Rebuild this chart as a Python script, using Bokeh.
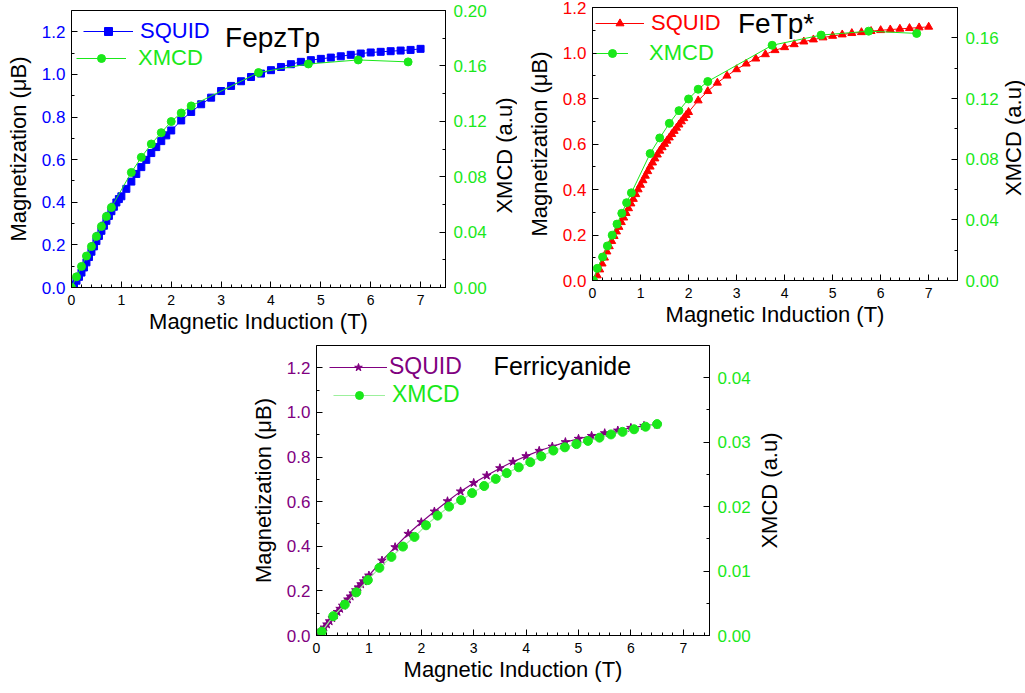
import math
from bokeh.plotting import figure
from bokeh.models import (Range1d, LinearAxis, SingleIntervalTicker, NumeralTickFormatter,
                          Legend, LegendItem, Label, Spacer)
from bokeh.layouts import column, row
from bokeh.embed import file_html
from bokeh.resources import INLINE

FONT = "Liberation Sans"
GREEN = "#1AE81A"
LIGHT_GREEN = "#9CF09C"

# ---------------- data ----------------
# Panel 1: FepzTp
fepz_sq_B = [0.02, 0.05, 0.1, 0.15, 0.2, 0.25, 0.3, 0.35, 0.4, 0.45, 0.5, 0.55, 0.6, 0.65, 0.7, 0.75,
             0.8, 0.85, 0.9, 0.95, 1.0, 1.1, 1.2, 1.3, 1.4, 1.5, 1.6, 1.7, 1.8, 1.9, 2.0, 2.2, 2.4, 2.6,
             2.8, 3.0, 3.2, 3.4, 3.6, 3.8, 4.0, 4.2, 4.4, 4.6, 4.8, 5.0, 5.2, 5.4, 5.6, 5.8, 6.0, 6.2,
             6.4, 6.6, 6.8, 7.0]
fepz_sq_M = [0.0, 0.013, 0.032, 0.05, 0.07, 0.094, 0.118, 0.143, 0.168, 0.193, 0.218, 0.242, 0.266,
             0.29, 0.313, 0.336, 0.358, 0.379, 0.399, 0.415, 0.428, 0.463, 0.497, 0.533, 0.565, 0.599,
             0.631, 0.659, 0.687, 0.714, 0.737, 0.784, 0.824, 0.86, 0.891, 0.922, 0.946, 0.968, 0.988,
             1.004, 1.02, 1.035, 1.048, 1.059, 1.067, 1.073, 1.079, 1.085, 1.092, 1.098, 1.103, 1.106,
             1.109, 1.112, 1.115, 1.12]
fepz_xm_B = [0.0, 0.1, 0.2, 0.3, 0.4, 0.5, 0.6, 0.7, 0.8, 1.2, 1.4, 1.6, 1.8, 2.0, 2.2, 2.4, 3.75,
             4.75, 5.75, 6.75]
fepz_xm = [0.0, 0.0077, 0.0152, 0.0227, 0.0296, 0.0369, 0.0441, 0.0513, 0.0578, 0.0831, 0.094,
           0.1036, 0.1118, 0.1198, 0.126, 0.1311, 0.1552, 0.1614, 0.1643, 0.1629]

# Panel 2: FeTp*
fetp_sq_B = [0.05, 0.1, 0.15, 0.2, 0.25, 0.3, 0.35, 0.4, 0.45, 0.5, 0.55, 0.6, 0.65, 0.7, 0.75, 0.8,
             0.85, 0.9, 0.95, 1.0, 1.05, 1.1, 1.15, 1.2, 1.25, 1.3, 1.35, 1.4, 1.45, 1.5, 1.55, 1.6,
             1.65, 1.7, 1.75, 1.8, 1.85, 1.9, 1.95, 2.0, 2.2, 2.4, 2.6, 2.8, 3.0, 3.2, 3.4, 3.6, 3.8,
             4.0, 4.2, 4.4, 4.6, 4.8, 5.0, 5.2, 5.4, 5.6, 5.8, 6.0, 6.2, 6.4, 6.6, 6.8, 7.0]
fetp_sq_M = [0.0, 0.022, 0.048, 0.074, 0.1, 0.127, 0.15, 0.173, 0.195, 0.215, 0.235, 0.256, 0.276,
             0.296, 0.317, 0.338, 0.358, 0.379, 0.4, 0.42, 0.44, 0.46, 0.48, 0.5, 0.518, 0.536, 0.553,
             0.57, 0.585, 0.6, 0.614, 0.628, 0.643, 0.657, 0.671, 0.685, 0.699, 0.713, 0.727, 0.74,
             0.791, 0.832, 0.869, 0.9, 0.928, 0.953, 0.975, 0.994, 1.012, 1.025, 1.038, 1.05, 1.059,
             1.068, 1.075, 1.081, 1.087, 1.091, 1.096, 1.1, 1.103, 1.106, 1.109, 1.112, 1.115]
fetp_xm_B = [0.02, 0.1, 0.21, 0.31, 0.41, 0.51, 0.61, 0.71, 0.81, 1.2, 1.4, 1.6, 1.8, 2.0, 2.2, 2.4,
             3.74, 4.76, 5.75, 6.75]
fetp_xm = [0.0, 0.008, 0.0155, 0.0228, 0.0299, 0.0372, 0.0443, 0.0513, 0.0578, 0.0837, 0.094,
           0.1036, 0.112, 0.1197, 0.1261, 0.1312, 0.1551, 0.1618, 0.1644, 0.1629]

# Panel 3: Ferricyanide
ferri_sq_B = [0.05, 0.1, 0.15, 0.2, 0.25, 0.3, 0.35, 0.4, 0.45, 0.5, 0.55, 0.6, 0.65, 0.7, 0.75, 0.8,
              0.85, 0.9, 0.95, 1.0, 1.25, 1.5, 1.75, 2.0, 2.25, 2.5, 2.75, 3.0, 3.25, 3.5, 3.75, 4.0,
              4.25, 4.5, 4.75, 5.0, 5.25, 5.5, 5.75, 6.0, 6.25, 6.5]
ferri_sq_M = [0.008, 0.022, 0.036, 0.05, 0.064, 0.078, 0.092, 0.106, 0.12, 0.134, 0.148, 0.162,
              0.175, 0.189, 0.203, 0.216, 0.23, 0.243, 0.256, 0.269, 0.336, 0.396, 0.456, 0.508,
              0.556, 0.602, 0.646, 0.684, 0.717, 0.75, 0.779, 0.804, 0.828, 0.847, 0.867, 0.882,
              0.895, 0.907, 0.919, 0.931, 0.94, 0.946]
ferri_xm_B = [0.1, 0.32, 0.54, 0.76, 0.98, 1.2, 1.43, 1.65, 1.87, 2.09, 2.31, 2.53, 2.76, 2.97, 3.2,
              3.42, 3.63, 3.86, 4.08, 4.29, 4.52, 4.74, 4.96, 5.18, 5.4, 5.62, 5.84, 6.06, 6.28, 6.5]
ferri_xm = [0.0006, 0.003, 0.0048, 0.0067, 0.0086, 0.0105, 0.0122, 0.0138, 0.0153, 0.0171, 0.0186,
            0.02, 0.021, 0.0221, 0.0232, 0.0243, 0.0252, 0.0261, 0.0269, 0.0278, 0.0287, 0.0292,
            0.0297, 0.0302, 0.0307, 0.0312, 0.0316, 0.032, 0.0324, 0.0328]


def style_axis(ax, color, ticker, fmt, size, label_standoff, tick_standoff):
    ax.ticker = ticker
    ax.formatter = NumeralTickFormatter(format=fmt)
    ax.major_label_text_color = color
    ax.major_label_text_font = FONT
    ax.major_label_text_font_size = size
    ax.axis_label_text_font = FONT
    ax.axis_label_text_font_size = "22px"
    ax.axis_label_text_font_style = "normal"
    ax.axis_label_text_color = "black"
    ax.axis_label_standoff = label_standoff
    ax.major_label_standoff = tick_standoff
    ax.major_tick_in = 6
    ax.major_tick_out = 0
    ax.minor_tick_in = 3
    ax.minor_tick_out = 0
    ax.axis_line_color = "black"
    ax.major_tick_line_color = "black"
    ax.minor_tick_line_color = "black"


def make_panel(width, height, borders, xmax, ymax, xmcd_max, xmcd_step, left_color):
    p = figure(width=width, height=height, output_backend="svg", toolbar_location=None,
               x_range=Range1d(0, xmax), y_range=Range1d(0, ymax),
               min_border_left=borders[0], min_border_right=borders[1],
               min_border_top=borders[2], min_border_bottom=borders[3])
    p.grid.visible = False
    p.outline_line_color = "black"
    p.outline_line_width = 1
    p.background_fill_color = "white"
    p.border_fill_color = "white"
    p.extra_y_ranges = {"xmcd": Range1d(0, xmcd_max)}
    style_axis(p.xaxis[0], "black", SingleIntervalTicker(interval=1, num_minor_ticks=5), "0",
               "14px", 1, 7)
    p.xaxis[0].axis_label = "Magnetic Induction (T)"
    style_axis(p.yaxis[0], left_color, SingleIntervalTicker(interval=0.2, num_minor_ticks=2),
               "0.0", "17px", 8, 6)
    p.yaxis[0].axis_label = "Magnetization (μB)"
    rax = LinearAxis(y_range_name="xmcd")
    style_axis(rax, GREEN, SingleIntervalTicker(interval=xmcd_step, num_minor_ticks=2), "0.00",
               "17px", 6, 8)
    p.add_layout(rax, "right")
    return p


def right_title(width, height, yfrac):
    """Narrow strip holding the right-hand axis title, reading bottom-to-top."""
    t = figure(width=width, height=height, output_backend="svg", toolbar_location=None,
               x_range=Range1d(0, 1), y_range=Range1d(0, 1), x_axis_location=None,
               y_axis_location=None, min_border=0)
    t.grid.visible = False
    t.outline_line_color = None
    t.background_fill_color = "white"
    t.border_fill_color = "white"
    t.add_layout(Label(x=0.5, y=yfrac, text="XMCD (a.u)", angle=math.pi / 2,
                       text_align="center", text_baseline="middle",
                       text_font=FONT, text_font_size="22px", text_color="black"))
    return t


def add_legend(p, renderers, label, color, loc, gw, standoff, size="22px"):
    leg = Legend(items=[LegendItem(label=label, renderers=renderers)], location=loc,
                 glyph_width=gw, glyph_height=20, label_standoff=standoff,
                 label_text_font=FONT, label_text_font_size=size, label_text_color=color,
                 padding=0, margin=0, spacing=0, border_line_alpha=0, background_fill_alpha=0)
    p.add_layout(leg, "center")


# ---------------- Panel 1 ----------------
p1 = make_panel(490, 340, (71, 45, 10, 53), 7.5, 1.3, 0.2, 0.04, "#0000FF")
l1 = p1.line(fepz_sq_B, fepz_sq_M, line_color="#0000FF", line_width=1)
s1 = p1.scatter(fepz_sq_B, fepz_sq_M, marker="square", size=7, fill_color="#0000FF", line_color="#0000FF")
l2 = p1.line(fepz_xm_B, fepz_xm, line_color=GREEN, line_width=1, y_range_name="xmcd")
s2 = p1.scatter(fepz_xm_B, fepz_xm, marker="circle", size=8, fill_color=GREEN, line_color=GREEN,
                y_range_name="xmcd")
add_legend(p1, [l1, s1], "SQUID", "#0000FF", (12, 243), 50, 7)
add_legend(p1, [l2, s2], "XMCD", GREEN, (5, 216), 50, 12)
p1.add_layout(Label(x=3.08, y=1.175, text="FepzTp", text_font=FONT, text_font_size="28px",
                    text_color="black", text_baseline="alphabetic"))
t1 = right_title(27, 340, 0.544)

# ---------------- Panel 2 ----------------
p2 = make_panel(484, 340, (75, 42, 7, 60), 7.6, 1.2001, 0.18, 0.04, "#FF0000")
l3 = p2.line(fetp_sq_B, fetp_sq_M, line_color="#FF0000", line_width=1)
s3 = p2.scatter(fetp_sq_B, fetp_sq_M, marker="triangle", size=8, fill_color="#FF0000", line_color="#FF0000")
l4 = p2.line(fetp_xm_B, fetp_xm, line_color=GREEN, line_width=1, y_range_name="xmcd")
s4 = p2.scatter(fetp_xm_B, fetp_xm, marker="circle", size=8, fill_color=GREEN, line_color=GREEN,
                y_range_name="xmcd")
add_legend(p2, [l3, s3], "SQUID", "#FF0000", (3, 244), 49, 7)
add_legend(p2, [l4, s4], "XMCD", GREEN, (4, 214), 32, 21)
p2.add_layout(Label(x=3.03, y=1.129, text="FeTp*", text_font=FONT, text_font_size="28px",
                    text_color="black", text_baseline="alphabetic"))
t2 = right_title(24, 340, 0.596)

# ---------------- Panel 3 ----------------
PURPLE = "#800080"
p3 = make_panel(509, 353, (71, 45, 5, 58), 7.5, 1.3, 0.045, 0.01, PURPLE)
l5 = p3.line(ferri_sq_B, ferri_sq_M, line_color=PURPLE, line_width=1.2)
s5 = p3.scatter(ferri_sq_B, ferri_sq_M, marker="star", size=9, fill_color=PURPLE, line_color=PURPLE)
l6 = p3.line(ferri_xm_B, ferri_xm, line_color=LIGHT_GREEN, line_width=1.2, y_range_name="xmcd")
s6 = p3.scatter(ferri_xm_B, ferri_xm, marker="circle", size=9, fill_color=GREEN, line_color=GREEN,
                y_range_name="xmcd")
add_legend(p3, [l5, s5], "SQUID", PURPLE, (13, 255), 58, 2, "23px")
add_legend(p3, [l6, s6], "XMCD", GREEN, (17, 227), 52, 7, "23px")
p3.add_layout(Label(x=3.38, y=1.21, text="Ferricyanide", text_font=FONT, text_font_size="25px",
                    text_color="black", text_baseline="alphabetic"))
t3 = right_title(30, 353, 0.575)

layout = column(row(column(p1), column(t1), column(p2), column(t2)),
                row(Spacer(width=245, height=353), column(p3), column(t3)))
open("out.html", "w").write(file_html(layout, INLINE))
